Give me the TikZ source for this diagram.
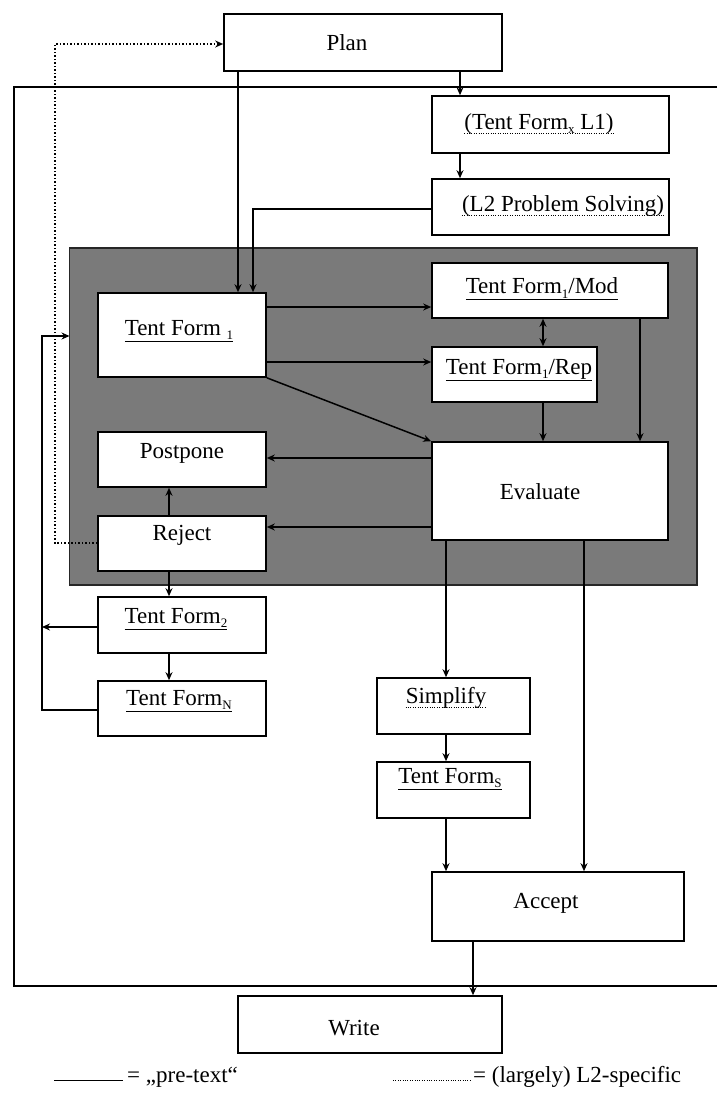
\documentclass[tikz,border=0pt]{standalone}
\usepackage{fontspec}
\setmainfont{Liberation Serif}
\usetikzlibrary{arrows.meta,calc}
\newcommand{\lowx}[1]{\raisebox{-0.4ex}{\fontsize{13}{13}\selectfont #1}}
\begin{document}
\begin{tikzpicture}[x=1pt,y=-1pt,
  box/.style={draw, fill=white, line width=1.6pt, inner sep=0pt},
  txt/.style={inner sep=0pt, font=\fontsize{23}{27}\selectfont},
  ln/.style={line width=1.5pt},
  arr/.style={ln, -{Stealth[length=8pt,width=7pt]}},
  dar/.style={ln, {Stealth[length=8pt,width=7pt]}-{Stealth[length=8pt,width=7pt]}},
  dots/.style={line width=1.5pt, dotted},
  uldots/.style={line width=0.7pt, dash pattern=on 0.8pt off 1.6pt}]
\useasboundingbox (0,0) rectangle (717,1102);
% outer frame
\draw[line width=1.6pt] (717,87) -- (14,87) -- (14,986) -- (717,986);
% grey region
\fill[black!52, draw=black!85, line width=1.4pt] (69.5,248) rectangle (697,585);
\coordinate (greyW) at (69.5,336);
% helper columns / rows
\coordinate (c42) at (42,0);
\coordinate (c55) at (55,0);
\coordinate (c169) at (169,0);
\coordinate (c238) at (238,0);
\coordinate (c253) at (253,0);
\coordinate (c446) at (446,0);
\coordinate (c460) at (460,0);
\coordinate (c473) at (473,0);
\coordinate (c543) at (543,0);
\coordinate (c584) at (584,0);
\coordinate (c640) at (640,0);
\coordinate (r44) at (0,44);
\coordinate (r307) at (0,307);
\coordinate (r362) at (0,362);
\coordinate (r458) at (0,458);
\coordinate (r527) at (0,527);
\coordinate (r543) at (0,543);
\coordinate (r627) at (0,627);
\coordinate (r710) at (0,710);
\coordinate (r209) at (0,209);
% boxes
\node[box, minimum width=278pt, minimum height=57pt] (plan) at (363,42.5) {};
\node[box, minimum width=237pt, minimum height=57pt] (tfx) at (550.5,124.5) {};
\node[box, minimum width=237pt, minimum height=56pt] (l2) at (550.5,207) {};
\node[box, minimum width=168pt, minimum height=84pt] (tf1) at (182,335) {};
\node[box, minimum width=236pt, minimum height=55pt] (mod) at (550,290.5) {};
\node[box, minimum width=165pt, minimum height=55pt] (rep) at (514.5,374.5) {};
\node[box, minimum width=168pt, minimum height=55pt] (post) at (182,459.5) {};
\node[box, minimum width=168pt, minimum height=55pt] (rej) at (182,543.5) {};
\node[box, minimum width=236pt, minimum height=98pt] (eval) at (550,491) {};
\node[box, minimum width=168pt, minimum height=56pt] (tf2) at (182,625) {};
\node[box, minimum width=168pt, minimum height=55pt] (tfn) at (182,708.5) {};
\node[box, minimum width=153pt, minimum height=56pt] (simp) at (453.5,706) {};
\node[box, minimum width=153pt, minimum height=56pt] (tfs) at (453.5,790) {};
\node[box, minimum width=252pt, minimum height=69pt] (acc) at (558,906.5) {};
\node[box, minimum width=264pt, minimum height=57pt] (write) at (370,1024.5) {};
% texts
\node[txt] (tplan) at (347,43) {Plan};
\node[txt] (ttfx) at (539,124) {(Tent Form\lowx{x} L1)};
\node[txt] (tl2) at (563,206) {(L2 Problem Solving)};
\node[txt] (ttf1) at (179,331) {\underline{Tent Form \lowx{1}}};
\node[txt] (tmod) at (542,289) {\underline{Tent Form\lowx{1}/Mod}};
\node[txt] (trep) at (519,370) {\underline{Tent Form\lowx{1}/Rep}};
\node[txt] (tpost) at (182,453) {Postpone};
\node[txt] (trej) at (182,535) {Reject};
\node[txt] (teval) at (540,492) {Evaluate};
\node[txt] (ttf2) at (176,619) {\underline{Tent Form\lowx{2}}};
\node[txt] (ttfn) at (179,701) {\underline{Tent Form\lowx{N}}};
\node[txt] (tsimp) at (446,698) {Simplify};
\node[txt] (ttfs) at (450,779) {\underline{Tent Form\lowx{S}}};
\node[txt] (tacc) at (546,903) {Accept};
\node[txt] (twrite) at (354,1028) {Write};
% dotted underlines
\draw[uldots] ([yshift=-4pt]ttfx.base west) -- ([yshift=-4pt]ttfx.base east);
\draw[uldots] ([yshift=-4pt]tl2.base west) -- ([yshift=-4pt]tl2.base east);
\draw[uldots] ([yshift=-4pt]tsimp.base west) -- ([yshift=-4pt]tsimp.base east);
% connectors
\draw[arr] (plan.south -| c460) -- (tfx.north -| c460);
\draw[arr] (tfx.south -| c460) -- (l2.north -| c460);
\draw[arr] (l2.west |- r209) -- (c253 |- r209) -- (tf1.north -| c253);
\draw[arr] (plan.south -| c238) -- (tf1.north -| c238);
\draw[arr] (tf1.east |- r307) -- (mod.west |- r307);
\draw[arr] (tf1.east |- r362) -- (rep.west |- r362);
\draw[arr] (tf1.south east) -- (eval.north west);
\draw[dar] (mod.south -| c543) -- (rep.north -| c543);
\draw[arr] (rep.south -| c543) -- (eval.north -| c543);
\draw[arr] (mod.south -| c640) -- (eval.north -| c640);
\draw[arr] (eval.west |- r458) -- (post.east |- r458);
\draw[arr] (eval.west |- r527) -- (rej.east |- r527);
\draw[arr] (rej.north -| c169) -- (post.south -| c169);
\draw[arr] (rej.south -| c169) -- (tf2.north -| c169);
\draw[arr] (tf2.south -| c169) -- (tfn.north -| c169);
\draw[arr] (tf2.west |- r627) -- (c42 |- r627);
\draw[arr] (tfn.west |- r710) -- (c42 |- r710) -- (c42 |- greyW) -- (greyW);
\draw[dots, -{Stealth[open,length=8pt,width=7pt]}] (rej.west |- r543) -- (c55 |- r543) -- (c55 |- r44) -- (plan.west |- r44);
\draw[arr] (eval.south -| c446) -- (simp.north -| c446);
\draw[arr] (simp.south -| c446) -- (tfs.north -| c446);
\draw[arr] (tfs.south -| c446) -- (acc.north -| c446);
\draw[arr] (eval.south -| c584) -- (acc.north -| c584);
\draw[arr] (acc.south -| c473) -- (write.north -| c473);
% legend
\coordinate (la) at (54,1080);
\coordinate (lb) at (123,1080);
\coordinate (lc) at (393,1080);
\coordinate (ld) at (471,1080);
\draw[line width=1pt] (la) -- (lb);
\draw[uldots] (lc) -- (ld);
\node[txt, anchor=base west] (leg1) at (127,1082) {= „pre-text“};
\node[txt, anchor=base west] (leg2) at (473,1082) {= (largely) L2-specific};
\end{tikzpicture}
\end{document}
